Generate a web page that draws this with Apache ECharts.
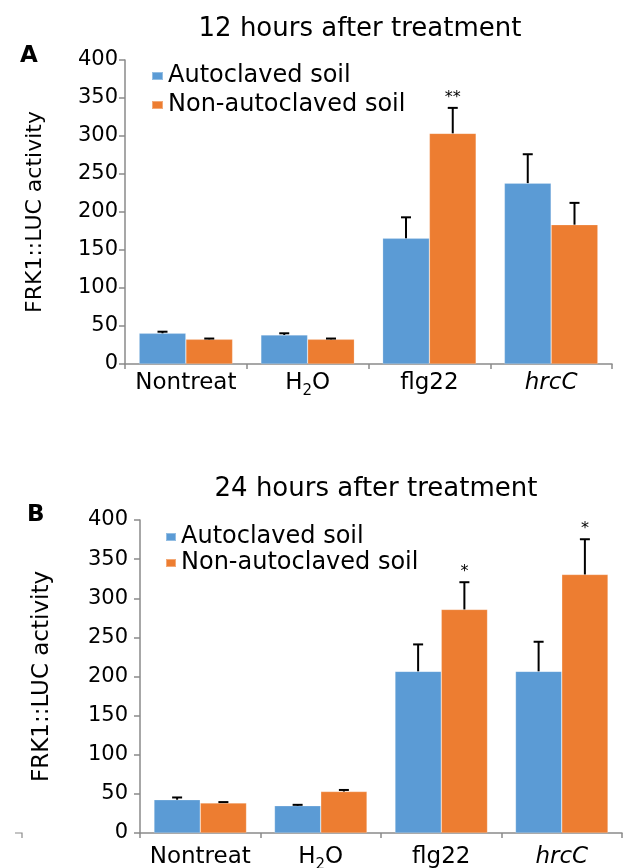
<!DOCTYPE html>
<html>
<head>
<meta charset="utf-8">
<script src="https://cdn.jsdelivr.net/npm/echarts@6/dist/echarts.min.js"></script>
<style>
html,body{margin:0;padding:0;background:#fff;}
#chart{width:623px;height:868px;}
</style>
</head>
<body>
<div id="chart"></div>
<script>
// ---- data ----
const categories = ['Nontreat', 'H2O', 'flg22', 'hrcC'];
const seriesNames = ['Autoclaved soil', 'Non-autoclaved soil'];

// Panel A: 12 hours after treatment
const a12Auto = [40.4, 38.2, 165.4, 238];
const a12AutoErr = [2.1, 2.2, 27.6, 38];
const a12Non = [32.5, 32.5, 303.5, 183.3];
const a12NonErr = [1, 1, 33.5, 28.7];
const a12NonSig = ['', '', '**', ''];

// Panel B: 24 hours after treatment
const b24Auto = [42.5, 34.8, 206.6, 206.6];
const b24AutoErr = [2.9, 1.2, 34.4, 37.8];
const b24Non = [38.3, 53, 285.7, 330.4];
const b24NonErr = [1.2, 2, 34.8, 45];
const b24NonSig = ['', '', '*', '*'];

const titleA = '12 hours after treatment';
const titleB = '24 hours after treatment';
const yName = 'FRK1::LUC activity';

// ---- styling ----
const FONT = 'DejaVu Sans';
const BLUE = '#5B9BD5';
const ORANGE = '#ED7D31';
const AXIS_GREY = '#8a8a8a';
const BAR_FRAC = 0.384;

function catFormatter(v) {
  if (v === 'H2O') return 'H{sub|2}O';
  if (v === 'hrcC') return '{it|hrcC}';
  return v;
}

function xAxisFor(gridIndex, fs, margin) {
  return {
    type: 'category', gridIndex: gridIndex, data: categories,
    axisLine: {lineStyle: {color: AXIS_GREY, width: 1.5}},
    axisTick: {show: true, length: 5, lineStyle: {color: AXIS_GREY, width: 1.5}},
    axisLabel: {
      interval: 0,
      color: '#000', fontFamily: FONT, fontSize: fs, margin: margin,
      formatter: catFormatter,
      rich: {
        sub: {fontFamily: FONT, fontSize: Math.round(fs * 0.65), verticalAlign: 'bottom', padding: [0, 0, -4, 0], color: '#000'},
        it: {fontFamily: FONT, fontSize: fs, fontStyle: 'italic', color: '#000'}
      }
    }
  };
}

function yAxisFor(gridIndex, fs, margin, nameFs, nameGap) {
  return {
    type: 'value', gridIndex: gridIndex, min: 0, max: 400, interval: 50,
    name: yName, nameLocation: 'middle', nameGap: nameGap, nameRotate: 90,
    nameTextStyle: {color: '#000', fontFamily: FONT, fontSize: nameFs},
    splitLine: {show: false},
    axisLine: {show: true, lineStyle: {color: AXIS_GREY, width: 1.5}},
    axisTick: {show: true, length: 6, lineStyle: {color: AXIS_GREY, width: 1.5}},
    axisLabel: {color: '#000', fontFamily: FONT, fontSize: fs, margin: margin}
  };
}

function barSeries(name, idx, data, color) {
  return {
    name: name, type: 'bar', xAxisIndex: idx, yAxisIndex: idx,
    data: data, barWidth: (BAR_FRAC * 100) + '%', barGap: '0%',
    itemStyle: {color: color, borderColor: 'rgba(255,255,255,0.35)', borderWidth: 0.6},
    z: 2
  };
}

function errSeries(idx, values, errs, sigs, sign, sigFs) {
  const d = values.map((v, i) => [i, v, errs[i]]);
  return {
    type: 'custom', xAxisIndex: idx, yAxisIndex: idx, z: 5,
    silent: true,
    data: d,
    renderItem: function (params, api) {
      const x = api.value(0), v = api.value(1), e = api.value(2);
      const base = api.coord([x, v]);
      const top = api.coord([x, v + e]);
      const band = api.size([1, 0])[0];
      const cx = base[0] + sign * band * BAR_FRAC / 2;
      const children = [
        {type: 'line', shape: {x1: cx, y1: base[1], x2: cx, y2: top[1]}, style: {stroke: '#000', lineWidth: 2}},
        {type: 'line', shape: {x1: cx - 5, y1: top[1], x2: cx + 5, y2: top[1]}, style: {stroke: '#000', lineWidth: 2}}
      ];
      const s = sigs ? sigs[params.dataIndex] : '';
      if (s) {
        children.push({type: 'text', style: {text: s, x: cx, y: top[1] - 2, align: 'center', verticalAlign: 'bottom', font: sigFs + 'px ' + FONT, fill: '#000'}});
      }
      return {type: 'group', children: children};
    }
  };
}

const chart = echarts.init(document.getElementById('chart'), null, {renderer: 'canvas'});
chart.setOption({
  backgroundColor: '#fff',
  animation: false,
  title: [
    {text: titleA, left: 355, top: 11, textAlign: 'center', textStyle: {fontFamily: FONT, fontSize: 26, fontWeight: 'normal', color: '#000'}},
    {text: titleB, left: 371, top: 471, textAlign: 'center', textStyle: {fontFamily: FONT, fontSize: 26, fontWeight: 'normal', color: '#000'}},
    {text: 'A', left: 15, top: 40, textStyle: {fontFamily: FONT, fontSize: 23, fontWeight: 'bold', color: '#000'}},
    {text: 'B', left: 22, top: 499, textStyle: {fontFamily: FONT, fontSize: 23, fontWeight: 'bold', color: '#000'}}
  ],
  legend: [
    {data: seriesNames, orient: 'vertical', left: 146, top: 59, itemGap: 5, itemWidth: 11, itemHeight: 8, icon: 'rect',
     textStyle: {fontFamily: FONT, fontSize: 24, color: '#000'}},
    {data: seriesNames, orient: 'vertical', left: 160, top: 520, itemGap: 2, itemWidth: 10, itemHeight: 8, icon: 'rect',
     textStyle: {fontFamily: FONT, fontSize: 24, color: '#000'}}
  ],
  grid: [
    {left: 125, right: 11, top: 60, bottom: 504, containLabel: false, outerBoundsMode: 'none'},
    {left: 140, right: 1, top: 520, bottom: 35, containLabel: false, outerBoundsMode: 'none'}
  ],
  xAxis: [xAxisFor(0, 23, 8), xAxisFor(1, 23, 13)],
  yAxis: [yAxisFor(0, 21, 7, 22, 79), yAxisFor(1, 21, 12, 23, 86)],
  series: [
    barSeries(seriesNames[0], 0, a12Auto, BLUE),
    barSeries(seriesNames[1], 0, a12Non, ORANGE),
    errSeries(0, a12Auto, a12AutoErr, null, -1, 16),
    errSeries(0, a12Non, a12NonErr, a12NonSig, 1, 16),
    barSeries(seriesNames[0], 1, b24Auto, BLUE),
    barSeries(seriesNames[1], 1, b24Non, ORANGE),
    errSeries(1, b24Auto, b24AutoErr, null, -1, 16),
    errSeries(1, b24Non, b24NonErr, b24NonSig, 1, 16)
  ],
  graphic: [
    {type: 'polyline', shape: {points: [[15, 833], [22, 833], [22, 838]]}, style: {stroke: AXIS_GREY, lineWidth: 1.2, fill: null}}
  ]
});
</script>
</body>
</html>
